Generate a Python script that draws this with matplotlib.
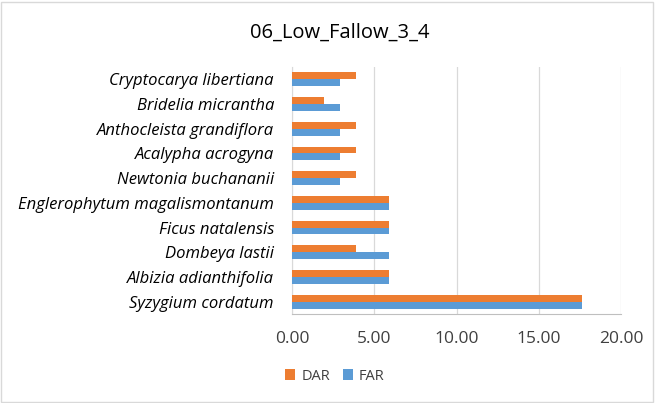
import numpy as np
import matplotlib
matplotlib.use("Agg")
import matplotlib.pyplot as plt
from matplotlib.patches import Rectangle

species = ["Syzygium cordatum", "Albizia adianthifolia", "Dombeya lastii",
           "Ficus natalensis", "Englerophytum magalismontanum",
           "Newtonia buchananii", "Acalypha acrogyna", "Anthocleista grandiflora",
           "Bridelia micrantha", "Cryptocarya libertiana"]
dar = [17.65, 5.88, 3.92, 5.88, 5.88, 3.92, 3.92, 3.92, 1.96, 3.92]
far = [17.65, 5.88, 5.88, 5.88, 5.88, 2.94, 2.94, 2.94, 2.94, 2.94]
xticks = [0, 5, 10, 15, 20]

plt.rcParams['font.family'] = ['Open Sans', 'DejaVu Sans']

fig = plt.figure(figsize=(6.55, 4.03), dpi=100)
ax = fig.add_axes([292 / 655, 1 - 314 / 403, 329 / 655, 247 / 403])

y = np.arange(len(species))
h = 0.28
ax.barh(y - h / 2, far, height=h, color='#5b9bd5', label='FAR', zorder=3)
ax.barh(y + h / 2, dar, height=h, color='#ed7d31', label='DAR', zorder=3)

ax.set_xlim(0, 20)
ax.set_ylim(-0.5, len(species) - 0.5)
ax.set_xticks(xticks)
ax.set_xticklabels([f"{v:.2f}" for v in xticks], fontsize=12.5, color='#404040')
ax.set_yticks(y)
ax.set_yticklabels(species, fontsize=12, style='italic', color='#000000')
ax.tick_params(axis='y', length=0, pad=13)
ax.tick_params(axis='x', length=0, pad=12)
ax.grid(axis='x', color='#d9d9d9', lw=0.9, zorder=0)
for s in ['top', 'right']:
    ax.spines[s].set_visible(False)
ax.spines['left'].set_color('#d9d9d9')
ax.spines['bottom'].set_color('#bfbfbf')

fig.text(340 / 655, 1 - 33 / 403, "06_Low_Fallow_3_4", ha='center', va='center',
         fontsize=14.5, color='#000000')

handles, labels = ax.get_legend_handles_labels()
leg = fig.legend(handles[::-1], labels[::-1], loc='center', bbox_to_anchor=(335 / 655, 1 - 376 / 403),
                 ncol=2, frameon=False, fontsize=10.5, handlelength=0.7, handleheight=0.7,
                 columnspacing=0.9, handletextpad=0.4)
for t in leg.get_texts():
    t.set_color('#404040')

fig.patches.append(Rectangle((1 / 655, 1 / 403), 652 / 655, 400 / 403, transform=fig.transFigure,
                             fill=False, edgecolor='#d9d9d9', lw=1))

fig.savefig("out.png", dpi=100)
